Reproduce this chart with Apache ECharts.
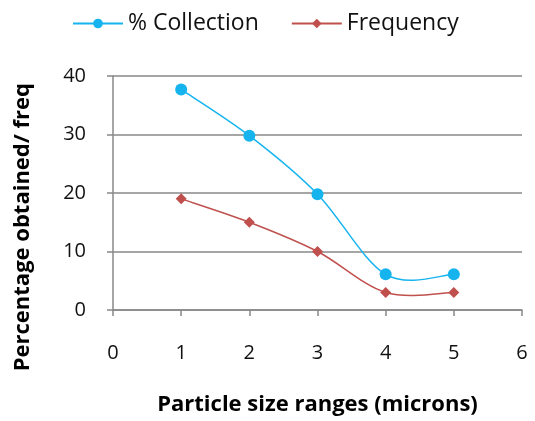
<!DOCTYPE html>
<html><head><meta charset="utf-8">
<script src="https://cdn.jsdelivr.net/npm/echarts@6/dist/echarts.min.js"></script>
<style>html,body{margin:0;padding:0;background:#fff}#c{width:535px;height:421px}</style>
</head><body><div id="c"></div>
<script>
const xValues = [1, 2, 3, 4, 5];
const collection = [37.7, 29.8, 19.8, 6.1, 6.1];
const frequency = [19, 15, 10, 3, 3];
const seriesNames = ['% Collection', 'Frequency'];
const xTitle = 'Particle size ranges (microns)';
const yTitle = 'Percentage obtained/ freq';

const font = 'Open Sans';
const blue = '#16b4ee', red = '#c0504d';

// Excel-like smoothed curve drawn through the data via the chart's coordinate system
function smoothCurve(values, color) {
  return {
    type: 'custom', name: 'curve', silent: true, z: 1,
    data: [0],
    renderItem: function (params, api) {
      const pts = xValues.map((x, i) => api.coord([x, values[i]]));
      const n = pts.length;
      const P = i => pts[Math.max(0, Math.min(n - 1, i))];
      let d = 'M' + pts[0][0] + ' ' + pts[0][1];
      for (let i = 0; i < n - 1; i++) {
        const p0 = P(i - 1), p1 = P(i), p2 = P(i + 1), p3 = P(i + 2);
        const c1 = [p1[0] + (p2[0] - p0[0]) / 6, p1[1] + (p2[1] - p0[1]) / 6];
        const c2 = [p2[0] - (p3[0] - p1[0]) / 6, p2[1] - (p3[1] - p1[1]) / 6];
        d += ' C' + c1[0] + ' ' + c1[1] + ' ' + c2[0] + ' ' + c2[1] + ' ' + p2[0] + ' ' + p2[1];
      }
      return {
        type: 'path',
        shape: { pathData: d },
        style: { fill: 'none', stroke: color, lineWidth: 1.5 }
      };
    }
  };
}

const chart = echarts.init(document.getElementById('c'));
chart.setOption({
  animation: false,
  textStyle: { fontFamily: font },
  legend: {
    top: 7, left: 67, itemGap: 32, itemWidth: 50, itemHeight: 12,
    textStyle: { fontSize: 23, color: '#111', fontFamily: font },
    lineStyle: { opacity: 1, width: 2 },
    data: [seriesNames[0], seriesNames[1]]
  },
  graphic: [{
    type: 'text', left: 12, top: 83, rotation: Math.PI / 2,
    style: { text: yTitle, fontSize: 22, fontWeight: 'bold', fill: '#000', fontFamily: font }
  }],
  grid: { left: 113, right: 13, top: 76, bottom: 109 },
  xAxis: {
    type: 'value', min: 0, max: 6, interval: 1,
    name: xTitle, nameLocation: 'middle', nameGap: 84,
    nameTextStyle: { fontSize: 22, fontWeight: 'bold', color: '#000', fontFamily: font },
    axisLine: { show: true, lineStyle: { color: '#888', width: 1.5 } },
    axisTick: { show: true, length: 6, lineStyle: { color: '#888', width: 1.5 } },
    axisLabel: { fontSize: 20, color: '#111', margin: 33 },
    splitLine: { show: false }
  },
  yAxis: {
    type: 'value', min: 0, max: 40, interval: 10,
    axisLine: { show: true, lineStyle: { color: '#888', width: 1.5 } },
    axisTick: { show: true, length: 6, lineStyle: { color: '#888', width: 1.5 } },
    axisLabel: { fontSize: 20, color: '#111', margin: 27 },
    splitLine: { show: true, lineStyle: { color: '#888', width: 1.5 } }
  },
  series: [
    {
      name: seriesNames[0], type: 'line', z: 3,
      data: xValues.map((x, i) => [x, collection[i]]),
      symbol: 'circle', symbolSize: 12,
      itemStyle: { color: blue },
      lineStyle: { color: blue, width: 1.5, opacity: 0 }
    },
    {
      name: seriesNames[1], type: 'line', z: 3,
      data: xValues.map((x, i) => [x, frequency[i]]),
      symbol: 'diamond', symbolSize: 11,
      itemStyle: { color: red },
      lineStyle: { color: red, width: 1.5, opacity: 0 }
    },
    smoothCurve(collection, blue),
    smoothCurve(frequency, red)
  ]
});
</script></body></html>
